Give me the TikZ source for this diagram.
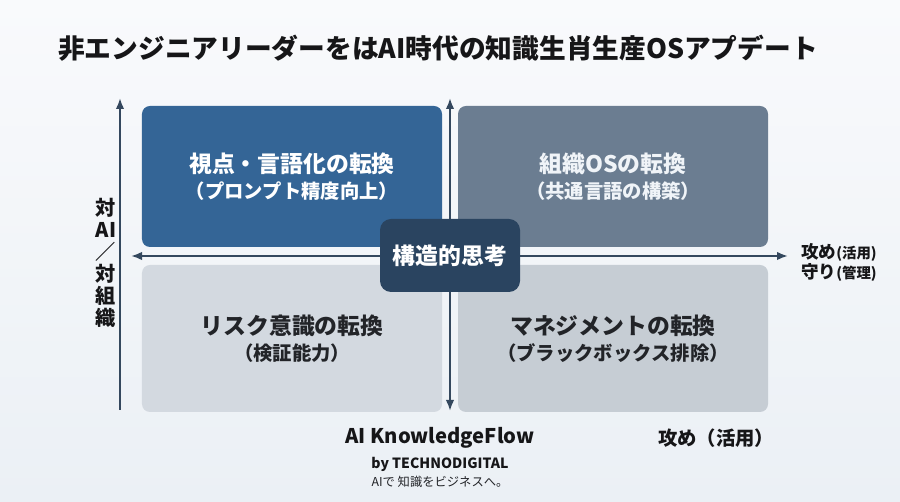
\documentclass[tikz,border=0pt]{standalone}
\usepackage{fontspec}
\setmainfont{Noto Sans CJK JP}
\usepackage{tikz}
\usetikzlibrary{
  arrows.meta,
  positioning,
  calc
}
\definecolor{bgtop}{RGB}{249, 250, 252}
\definecolor{bgbottom}{RGB}{235, 240, 245}
\definecolor{aicolor}{RGB}{52, 101, 150}
\definecolor{orgcolor}{RGB}{107, 125, 145}
\definecolor{riskcolor}{RGB}{211, 217, 224}
\definecolor{mgmtcolor}{RGB}{198, 205, 212}
\definecolor{corecolor}{RGB}{42, 68, 96}
\definecolor{axiscolor}{RGB}{52, 72, 94}
\definecolor{labelcolor}{RGB}{22, 22, 24}
\definecolor{darktext}{RGB}{34, 36, 40}
\definecolor{lighttext}{RGB}{240, 244, 248}
\tikzset{
quadtext/.style={
  align=center,
  font=\fontsize{13}{14.5}\selectfont\bfseries
},
quadblock/.style={
  rounded corners=1.6mm,
  inner sep=0pt,
  minimum height=28.4mm,
  quadtext
},
coreblock/.style={
  rounded corners=2.2mm,
  fill=corecolor,
  text=white,
  minimum width=28mm,
  minimum height=14.6mm,
  font=\fontsize{13}{15}\selectfont\bfseries
},
axislabel/.style={
  font=\fontsize{11.5}{12.5}\selectfont\bfseries,
  text=labelcolor,
  align=center
},
axis/.style={
  line width=1.1pt,
  draw=axiscolor
},
arrow/.style={
  axis,
  -{Latex[length=2.2mm,width=1.7mm]}
},
dblarrow/.style={
  axis,
  {Latex[length=2.2mm,width=1.7mm]}-{Latex[length=2.2mm,width=1.7mm]}
}
}
\newcommand{\subline}[1]{{\fontsize{11}{13}\selectfont #1}}

\begin{document}
\begin{tikzpicture}[x=0.2mm, y=-0.2mm]
  % Background
  \shade[top color=bgtop, bottom color=bgbottom] (0,0) rectangle (900,502);

  % Title
  \node[font=\fontsize{15.2}{16}\selectfont\bfseries, text=labelcolor] (title) at (438,48)
    {非エンジニアリーダーをはAI時代の知識生肖生産OSアプデート};

  % Axis end points
  \coordinate (lefttop) at (120,98);
  \coordinate (leftbottom) at (120,410);
  \coordinate (midtop) at (450,98);
  \coordinate (midbottom) at (450,411);
  \coordinate (hleft) at (131,256);
  \coordinate (hright) at (788,256);

  % Axes
  \draw[arrow] (leftbottom) -- (lefttop);
  \draw[dblarrow] (midbottom) -- (midtop);
  \draw[dblarrow] (hleft) -- (hright);

  % Quadrants
  \node[quadblock, fill=aicolor, text=white, minimum width=60mm, minimum height=28.2mm] (aiview) at (292,176.5) {
    視点・言語化の転換\\\subline{（プロンプト精度向上）}
  };
  \node[quadblock, fill=orgcolor, text=lighttext, minimum width=62mm, minimum height=28.2mm] (orgos) at (613,176.5) {
    組織OSの転換\\\subline{（共通言語の構築）}
  };
  \node[quadblock, fill=riskcolor, text=darktext, minimum width=60mm, minimum height=29.4mm] (risk) at (292,338.5) {
    リスク意識の転換\\\subline{（検証能力）}
  };
  \node[quadblock, fill=mgmtcolor, text=darktext, minimum width=62mm, minimum height=29.4mm] (mgmt) at (613,338.5) {
    マネジメントの転換\\\subline{（ブラックボックス排除）}
  };

  % Center
  \node[coreblock] (core) at (450,255.5) {構造的思考};

  % Axis labels
  \node[axislabel] (vlabel) at (106,263) {対\\AI\\／\\対\\組\\織};
  \node[axislabel, right=1.4mm of hright, yshift=-1.3mm, align=left, font=\fontsize{10}{11.2}\selectfont\bfseries] (hlabel) {
    攻め{\fontsize{8.2}{9}\selectfont(活用)}\\守り{\fontsize{8.2}{9}\selectfont(管理)}
  };

  % Footer
  \node[font=\fontsize{11.5}{13}\selectfont\bfseries, text=labelcolor] (brand) at (440,438) {AI KnowledgeFlow};
  \node[below=0.1mm of brand, font=\fontsize{8}{9.5}\selectfont\bfseries, text=labelcolor, inner sep=1pt] (maker) {by TECHNODIGITAL};
  \node[below=0.1mm of maker, font=\fontsize{7}{8}\selectfont, text=darktext, inner sep=1pt] (slogan) {AIで 知識をビジネスへ。};
  \node[font=\fontsize{11}{13}\selectfont\bfseries, text=labelcolor] (offense) at (716,438) {攻め（活用）};
\end{tikzpicture}
\end{document}
